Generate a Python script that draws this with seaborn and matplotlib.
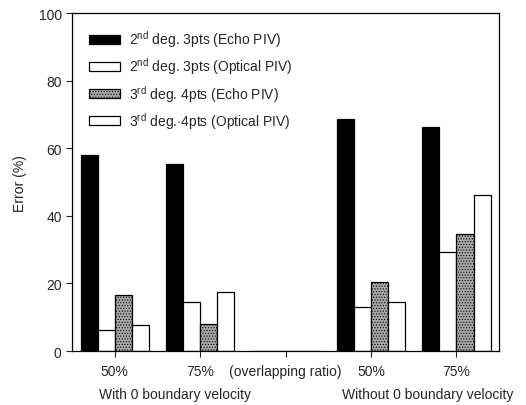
import matplotlib
matplotlib.use("Agg")
import matplotlib.pyplot as plt
import seaborn as sns
import pandas as pd
import numpy as np
from matplotlib.patches import Patch

categories = ["w50", "w75", "gap", "wo50", "wo75"]
tick_labels = ["50%", "75%", "(overlapping ratio)", "50%", "75%"]
series = [
    r"2$^{\mathrm{nd}}$ deg. 3pts (Echo PIV)",
    r"2$^{\mathrm{nd}}$ deg. 3pts (Optical PIV)",
    r"3$^{\mathrm{rd}}$ deg. 4pts (Echo PIV)",
    r"3$^{\mathrm{rd}}$ deg.$\cdot$4pts (Optical PIV)",
]
echo_2nd = [58.0, 55.3, 0.0, 68.6, 66.3]
optical_2nd = [6.2, 14.5, 0.0, 13.0, 29.3]
echo_3rd = [16.6, 8.0, 0.0, 20.4, 34.6]
optical_3rd = [7.7, 17.5, 0.0, 14.5, 46.2]
group_labels = ["With 0 boundary velocity", "Without 0 boundary velocity"]

sns.set_theme(style="ticks")
plt.rcParams["font.family"] = ["Liberation Sans", "DejaVu Sans"]
plt.rcParams["mathtext.fontset"] = "custom"
plt.rcParams["mathtext.rm"] = "Liberation Sans"
plt.rcParams["mathtext.it"] = "Liberation Sans"
plt.rcParams["hatch.linewidth"] = 0.5

rows = []
for s, vals in zip(series, [echo_2nd, optical_2nd, echo_3rd, optical_3rd]):
    for c, v in zip(categories, vals):
        rows.append({"cat": c, "series": s, "value": v})
df = pd.DataFrame(rows)

faces = ["#000000", "#ffffff", "#a8a8a8", "#ffffff"]
hatches = [None, None, "......", None]

fig = plt.figure(figsize=(5.26, 4.06), dpi=100)
ax = fig.add_axes([0.137, 0.133, 0.812, 0.832])
sns.barplot(data=df, x="cat", y="value", hue="series", order=categories,
            hue_order=series, palette=faces, width=0.8, gap=0,
            edgecolor="black", linewidth=0.9, saturation=1, ax=ax, legend=False)

for cont, fc, h in zip(ax.containers, faces, hatches):
    for p in cont:
        p.set_facecolor(fc)
        p.set_edgecolor("black")
        if h:
            p.set_hatch(h)

ax.set_xlim(-0.5, 4.5)
ax.set_ylim(0, 100)
ax.set_yticks([0, 20, 40, 60, 80, 100])
ax.set_xticks(range(len(categories)))
ax.set_xticklabels(tick_labels, fontsize=10)
ax.tick_params(axis="y", labelsize=10, direction="out", length=4, width=0.8)
ax.tick_params(axis="x", direction="out", length=4, width=0.8, pad=5)
ax.set_xlabel("")
ax.set_ylabel("Error (%)", fontsize=10, labelpad=8)
for sp in ax.spines.values():
    sp.set_visible(True)
    sp.set_linewidth(0.9)
    sp.set_color("black")

ax.text(0.70, -0.127, group_labels[0], transform=ax.get_xaxis_transform(),
        ha="center", va="center", fontsize=10)
ax.text(3.66, -0.127, group_labels[1], transform=ax.get_xaxis_transform(),
        ha="center", va="center", fontsize=10)

handles = [Patch(facecolor=fc, edgecolor="black", hatch=h, linewidth=0.9)
           for fc, h in zip(faces, hatches)]
ax.legend(handles, series, loc="upper left", bbox_to_anchor=(0.04, 0.955),
          frameon=False, fontsize=10, handlelength=2.2, handleheight=0.6,
          handletextpad=0.7, labelspacing=0.45, borderpad=0, borderaxespad=0)

fig.savefig("out.png", dpi=100)
